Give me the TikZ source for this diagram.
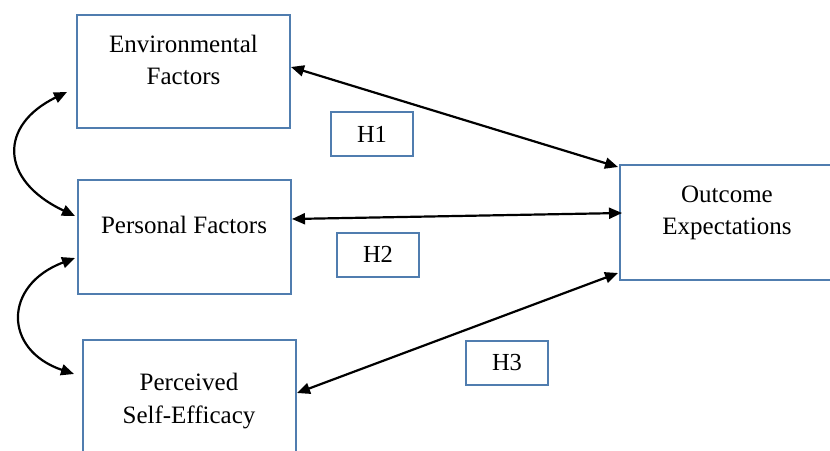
\documentclass[tikz,border=0pt]{standalone}
\usepackage{fontspec}
\setmainfont{Liberation Serif}
\usetikzlibrary{arrows.meta}
\definecolor{boxblue}{RGB}{80,125,175}
\tikzset{
  box/.style={draw=boxblue, line width=2pt, rectangle, inner sep=0pt, fill=none},
  bigbox/.style={box, minimum width=213pt, minimum height=114pt},
  hbox/.style={box, minimum width=82pt, minimum height=44pt, font=\fontsize{24.5}{30}\selectfont},
  lbl/.style={align=center, inner sep=0pt, font=\fontsize{25}{32.5}\selectfont},
  link/.style={line width=2.2pt, {Triangle[length=13pt,width=11pt]}-{Triangle[length=13pt,width=11pt]}}
}
\begin{document}
\begin{tikzpicture}[x=1pt,y=-1pt]
\useasboundingbox (0,0) rectangle (830,450);
% boxes
\node[bigbox, minimum height=113pt] (env) at (183.5,71.5) {};
\node[bigbox] (pers) at (184,237) {};
\node[bigbox] (perc) at (189,397) {};
\node[bigbox, minimum height=115pt, minimum width=214pt] (out) at (727,222.5) {};
% texts
\node[lbl] (envt) at (183.5,60) {Environmental\\Factors};
\node[lbl] (perst) at (184,225) {Personal Factors};
\node[lbl] (perct) at (189,401) {Perceived\\Self-Efficacy};
\node[lbl] (outt) at (727,213) {Outcome\\Expectations};
% hypothesis labels
\node[hbox] (h1) at (372,134) {H1};
\node[hbox] (h2) at (378,254.5) {H2};
\node[hbox] (h3) at (507,362.5) {H3};
% connector end points
\coordinate (e1) at (291,67);
\coordinate (o1) at (618,167);
\coordinate (p1) at (292,219);
\coordinate (o2) at (622,213);
\coordinate (s1) at (297,393);
\coordinate (o3) at (618,273);
\coordinate (ea) at (67,92);
\coordinate (pa) at (75,216);
\coordinate (pb) at (75,258);
\coordinate (sa) at (74,374);
% connectors
\draw[link] (e1) -- (o1);
\draw[link] (p1) -- (o2);
\draw[link] (s1) -- (o3);
\draw[link] (ea) .. controls (-1,125) and (-1,180) .. (pa);
\draw[link] (pb) .. controls (3,285) and (3,350) .. (sa);
\end{tikzpicture}
\end{document}
